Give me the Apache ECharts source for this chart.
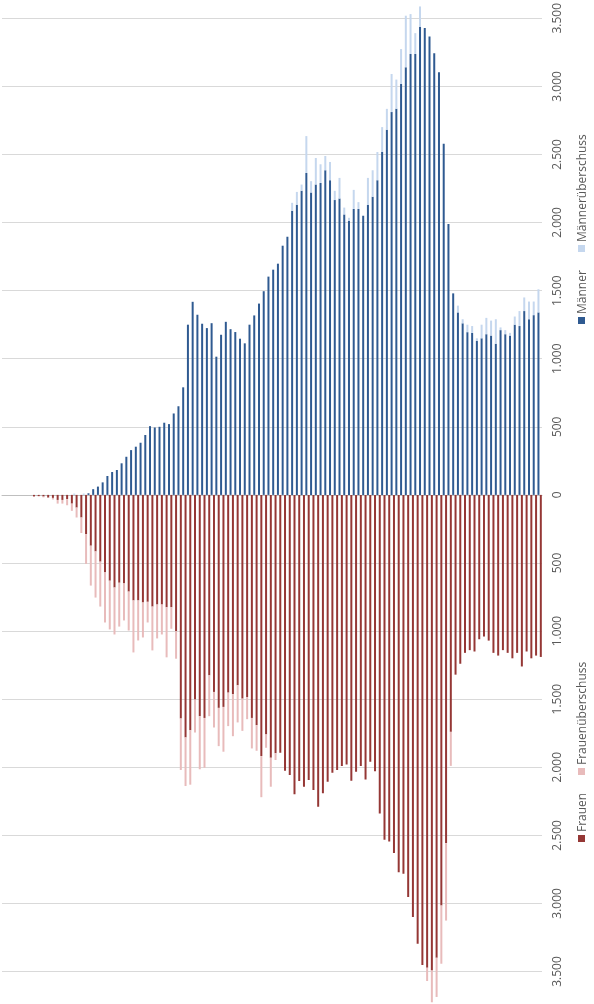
<!DOCTYPE html>
<html><head><meta charset="utf-8">
<script src="https://cdn.jsdelivr.net/npm/echarts@6/dist/echarts.min.js"></script>
<style>html,body{margin:0;padding:0;background:#fff}#c{width:594px;height:1004px}</style>
</head><body><div id="c"></div>
<script>
// categories: 114 age groups (oldest on the left)
const categories = Array.from({length:114}, (_, i) => String(113 - i));

// Männer (dark) values per category
const maenner = [0,0,0,0,0,0,0,0,0,0,0,0,0,0,0,0,0,0,12,42,
61,92,139,168,183,232,280,329,354,383,
440,505,495,500,530,520,598,651,790,1250,
1418,1323,1257,1225,1261,1015,1176,1271,1217,1196,
1147,1113,1250,1318,1405,1496,1603,1654,1698,1830,
1896,2086,2130,2233,2364,2220,2279,2291,2384,2311,
2165,2176,2060,2013,2100,2100,2050,2130,2189,2311,
2518,2681,2811,2835,3018,3140,3238,3238,3438,3428,
3367,3243,3104,2579,1990,1480,1340,1260,1195,1190,
1130,1150,1180,1170,1110,1210,1180,1170,1250,1240,
1350,1290,1320,1340];
// Männerüberschuss (light part on top of Männer)
const maennerUeberschuss = [0,0,0,0,0,0,0,0,0,0,0,0,0,0,0,10,0,10,0,0,
0,0,0,0,0,0,0,0,0,0,
0,0,0,0,0,0,0,0,0,0,
0,0,0,0,0,0,0,0,0,0,
0,0,0,0,0,0,0,0,0,0,
0,59,95,46,271,84,195,137,105,134,
68,152,50,22,140,50,0,198,195,207,
183,154,280,215,256,379,293,153,149,0,
0,0,0,0,0,0,50,30,55,50,
20,100,120,110,180,20,30,20,60,110,
100,130,100,170];
// Frauen (dark) values per category
const frauen = [0,0,0,0,0,0,12,8,12,20,22,37,37,31,64,93,166,288,373,415,
490,569,630,680,645,650,710,775,775,790,
785,820,805,805,825,825,1001,1642,1781,1728,
1503,1625,1638,1325,1447,1564,1557,1452,1464,1398,
1496,1484,1638,1691,1918,1759,1930,1898,1894,2025,
2057,2198,2101,2143,2094,2167,2290,2191,2106,2040,
2020,1991,1979,2099,2033,1990,2090,1960,2030,2340,
2533,2545,2630,2772,2782,2952,3099,3296,3453,3472,
3492,3399,3016,2557,1740,1320,1240,1160,1140,1150,
1060,1040,1070,1160,1180,1140,1160,1200,1160,1260,
1150,1200,1180,1190];
// Frauenüberschuss (light part below Frauen)
const frauenUeberschuss = [0,0,0,0,0,0,3,4,6,2,12,27,27,45,53,73,114,219,293,339,
330,368,358,345,322,272,286,382,294,257,
152,322,249,220,368,158,202,378,357,400,
242,390,366,300,261,281,329,246,308,273,
237,163,224,188,302,98,213,49,0,0,
0,0,0,0,0,0,0,0,0,0,
0,0,0,0,0,0,0,0,0,0,
0,0,0,0,0,0,0,0,0,98,
234,288,427,569,250,0,0,0,0,0,
0,0,0,0,0,0,0,0,0,0,
0,0,0,0];

const yTicks = [-3500,-3000,-2500,-2000,-1500,-1000,-500,0,500,1000,1500,2000,2500,3000,3500];

function fmt(v){ return String(Math.abs(v)).replace(/\B(?=(\d{3})+(?!\d))/g,'.'); }

const chart = echarts.init(document.getElementById('c'), null, {renderer:'canvas'});
const FONT = '"Open Sans", "Noto Sans", sans-serif';
const legendItems = [
  {name:'Männer', color:'#2F5A91', y:324},
  {name:'Männerüberschuss', color:'#C5D7EE', y:252},
  {name:'Frauen', color:'#953735', y:842},
  {name:'Frauenüberschuss', color:'#E8BBBB', y:775}
];
const graphics = [];
legendItems.forEach(it => {
  graphics.push({type:'rect', shape:{x:578, y:it.y-7, width:7, height:7}, style:{fill:it.color}});
  graphics.push({type:'text', x:583, y:it.y-10, rotation:Math.PI/2,
    style:{text:it.name, fill:'#595959', font:'12px ' + FONT, textAlign:'left', textVerticalAlign:'middle'}});
});

chart.setOption({
  animation:false,
  backgroundColor:'#fff',
  grid:{left:2, right:52, top:16, bottom:32.5, containLabel:false},
  xAxis:{type:'category', data:categories,
    axisLine:{show:true, onZero:true, lineStyle:{color:'#bfbfbf', width:1}},
    axisTick:{show:false}, axisLabel:{show:false}},
  yAxis:{type:'value', position:'right', min:yTicks[0], max:yTicks[yTicks.length-1], interval:500,
    axisLine:{show:false}, axisTick:{show:false},
    splitLine:{lineStyle:{color:'#d9d9d9', width:1}},
    axisLabel:{rotate:90, margin:10, color:'#595959', fontSize:12, fontFamily:FONT, formatter:fmt}},
  series:[
    {name:'Männer', type:'bar', stack:'m', data:maenner, barWidth:2, barGap:'18%', clip:false,
      itemStyle:{color:'#2F5A91'}},
    {name:'Männerüberschuss', type:'bar', stack:'m', data:maennerUeberschuss, barWidth:2, clip:false,
      itemStyle:{color:'#C5D7EE'}},
    {name:'Frauen', type:'bar', stack:'f', data:frauen.map(v=>-v), barWidth:2, barGap:'18%', clip:false,
      itemStyle:{color:'#953735'}},
    {name:'Frauenüberschuss', type:'bar', stack:'f', data:frauenUeberschuss.map(v=>-v), barWidth:2, clip:false,
      itemStyle:{color:'#E8BBBB'}}
  ],
  graphic:graphics
});
</script></body></html>
